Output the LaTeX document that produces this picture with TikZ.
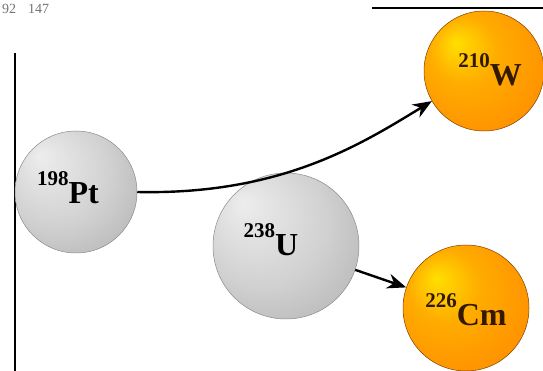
\documentclass[tikz,border=0pt]{standalone}
\usepackage{fontspec}
\setmainfont{Liberation Serif}
\usetikzlibrary{arrows.meta}

\pgfdeclareradialshading{grayball}{\pgfpoint{-15bp}{15bp}}{color(0bp)=(black!7); color(22bp)=(black!18); color(42bp)=(black!32); color(50bp)=(black!42)}
\pgfdeclareradialshading{orangeball}{\pgfpoint{-12bp}{12bp}}{color(0bp)=(yellow!75!orange); color(14bp)=(orange!65!yellow); color(34bp)=(orange!88!yellow); color(50bp)=(orange!85!red)}

\newcommand{\nucl}[2]{\textbf{\fontsize{21}{21}\selectfont\raisebox{18pt}{#1}\fontsize{32}{32}\selectfont#2}}

\begin{document}
\begin{tikzpicture}[
  x=1pt, y=-1pt,
  lightatom/.style={circle, inner sep=0pt, minimum size=#1, shading=grayball, draw=black!45, line width=0.5pt},
  heavyatom/.style={circle, inner sep=0pt, minimum size=#1, shading=orangeball, draw=orange!50!black, line width=0.5pt},
  arr/.style={-{Stealth[length=19pt, width=15pt]}, line width=2.4pt}
]
\useasboundingbox (0,0) rectangle (543,371);
\fill[white] (0,0) rectangle (543,371);

% cut-off frame remnants
\node[anchor=base west, inner sep=0pt, text=black!55, font=\fontsize{14}{14}\selectfont] (cut) at (2,14) {92\hspace{12pt}147};
\draw[line width=1.2pt] (15,53) -- (15,371);
\draw[line width=1.8pt] (372,8) -- (543,8);

% nuclei
\node[lightatom=122pt, label={[xshift=-8pt, yshift=4pt]center:\nucl{198}{Pt}}] (Pt) at (76,192) {};
\node[lightatom=146pt, label={[xshift=-15pt, yshift=6pt]center:\nucl{238}{U}}] (U) at (286,246) {};
\node[heavyatom=120pt, label={[xshift=6pt, yshift=1pt, text=black!80!orange]center:\nucl{210}{W}}] (W) at (484,71) {};
\node[heavyatom=126pt, label={[yshift=-2pt, text=black!80!orange]center:\nucl{226}{Cm}}] (Cm) at (466,308) {};

% transfer arrows
\draw[arr] (Pt.east) .. controls +(143,3) and +(-72,44) .. (W.210);
\draw[arr] (U) -- (Cm);
\end{tikzpicture}
\end{document}
